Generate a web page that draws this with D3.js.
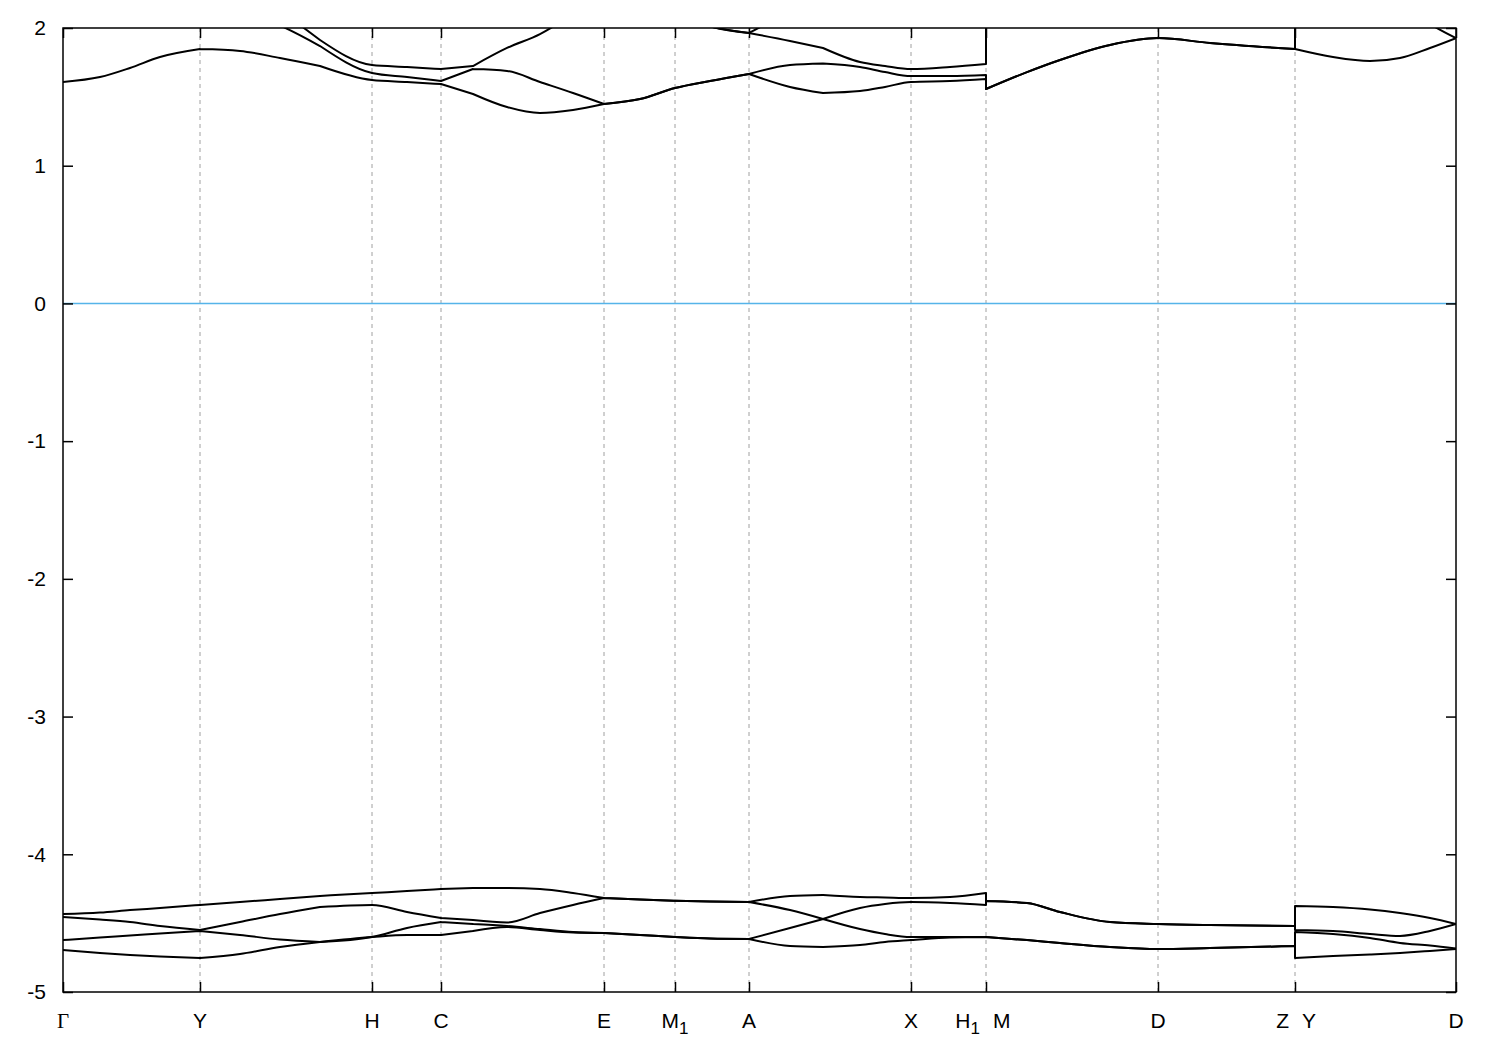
<!DOCTYPE html>
<html><head><meta charset="utf-8">
<script src="https://cdn.jsdelivr.net/npm/d3@7"></script>
<style>body{margin:0;background:#fff}</style>
</head><body>
<svg id="chart" width="1500" height="1050"></svg>
<script>
// k-path sample points (duplicated k = discontinuity of the path)
const kGrid = [0, 0.037, 0.067, 0.097, 0.137, 0.177, 0.217, 0.257, 0.309, 0.344,
  0.378, 0.410, 0.444, 0.477, 0.510, 0.541, 0.577, 0.612, 0.647, 0.686,
  0.727, 0.760, 0.797, 0.822, 0.848, 0.887, 0.923, 0.923, 0.964, 0.997,
  1.047, 1.095, 1.147, 1.232, 1.232, 1.270, 1.307, 1.337, 1.367, 1.393];
// sample indices where bands cross / meet (kinks)
const kinkIdx = [4, 7, 10, 11, 15, 19, 21];
const kTicks = [0, 0.137, 0.309, 0.378, 0.541, 0.612, 0.686, 0.848, 0.923, 1.095, 1.232, 1.393];
const kTickLabels = ["Γ", "Y", "H", "C", "E", "M_1", "A", "X", "H_1|M", "D", "Z|Y", "D"];
const yTicks = [-5, -4, -3, -2, -1, 0, 1, 2];
const fermiLevel = 0;

// conduction bands (eV)
const cb1 = [1.608, 1.644, 1.710, 1.789, 1.847, 1.833, 1.782, 1.724, 1.622, 1.608,
  1.593, 1.521, 1.426, 1.383, 1.405, 1.448, 1.484, 1.564, 1.615, 1.666,
  1.572, 1.528, 1.542, 1.572, 1.608, 1.615, 1.630, 1.557, 1.680, 1.768,
  1.877, 1.927, 1.891, 1.847, 1.847, 1.789, 1.760, 1.782, 1.855, 1.927];
const cb2 = [2.50, 2.45, 2.40, 2.30, 2.20, 2.12, 2.018, 1.869, 1.673, 1.644,
  1.615, 1.702, 1.688, 1.608, 1.528, 1.448, 1.484, 1.564, 1.615, 1.666,
  1.731, 1.742, 1.717, 1.680, 1.651, 1.651, 1.659, 1.557, 1.680, 1.768,
  1.877, 1.927, 1.891, 1.847, 2.30, 2.40, 2.40, 2.20, 2.03, 1.927];
const cb3 = [2.60, 2.60, 2.55, 2.50, 2.45, 2.35, 2.13, 1.913, 1.731, 1.717,
  1.702, 1.724, 1.855, 1.956, 2.10, 2.25, 2.20, 2.10, 2.012, 1.964,
  1.906, 1.855, 1.753, 1.724, 1.702, 1.717, 1.739, 2.30, 2.35, 2.40,
  2.40, 2.35, 2.40, 2.45, 2.45, 2.50, 2.50, 2.50, 2.50, 2.50];
const cb4 = [2.70, 2.70, 2.65, 2.60, 2.55, 2.50, 2.45, 2.40, 2.40, 2.40,
  2.40, 2.40, 2.40, 2.40, 2.35, 2.30, 2.25, 2.12, 2.012, 1.964,
  2.15, 2.40, 2.50, 2.50, 2.50, 2.50, 2.50, 2.60, 2.60, 2.60,
  2.60, 2.60, 2.60, 2.60, 2.60, 2.60, 2.60, 2.60, 2.60, 2.60];

// valence bands (eV)
const vb1 = [-4.434, -4.423, -4.405, -4.390, -4.368, -4.347, -4.325, -4.303, -4.281, -4.267,
  -4.252, -4.245, -4.245, -4.252, -4.281, -4.318, -4.329, -4.337, -4.343, -4.347,
  -4.303, -4.296, -4.310, -4.314, -4.318, -4.310, -4.281, -4.339, -4.354, -4.419,
  -4.492, -4.506, -4.514, -4.521, -4.376, -4.383, -4.401, -4.427, -4.463, -4.506];
const vb2 = [-4.456, -4.474, -4.492, -4.521, -4.550, -4.492, -4.434, -4.383, -4.368, -4.419,
  -4.463, -4.477, -4.495, -4.427, -4.368, -4.318, -4.329, -4.337, -4.343, -4.347,
  -4.405, -4.470, -4.390, -4.361, -4.347, -4.354, -4.368, -4.339, -4.354, -4.419,
  -4.492, -4.506, -4.514, -4.521, -4.550, -4.557, -4.579, -4.593, -4.557, -4.506];
const vb3 = [-4.623, -4.604, -4.590, -4.575, -4.557, -4.586, -4.619, -4.637, -4.601, -4.535,
  -4.492, -4.506, -4.521, -4.543, -4.564, -4.572, -4.586, -4.601, -4.612, -4.615,
  -4.535, -4.470, -4.543, -4.579, -4.601, -4.601, -4.601, -4.601, -4.623, -4.644,
  -4.673, -4.688, -4.681, -4.666, -4.564, -4.579, -4.608, -4.644, -4.663, -4.684];
const vb4 = [-4.695, -4.717, -4.732, -4.743, -4.753, -4.724, -4.673, -4.637, -4.601, -4.586,
  -4.586, -4.557, -4.528, -4.550, -4.568, -4.572, -4.586, -4.601, -4.612, -4.615,
  -4.666, -4.673, -4.659, -4.637, -4.623, -4.604, -4.601, -4.601, -4.623, -4.644,
  -4.673, -4.688, -4.681, -4.666, -4.753, -4.739, -4.728, -4.717, -4.702, -4.688];

const bands = [vb4, vb3, vb2, vb1, cb1, cb2, cb3, cb4];

const svg = d3.select("#chart");
const pL = 63, pR = 1456, pT = 28, pB = 992;
const x = d3.scaleLinear().domain([0, 1.393]).range([pL, pR]);
const y = d3.scaleLinear().domain([-5, 2]).range([pB, pT]);
const font = "'Liberation Sans', Arial, Helvetica, sans-serif";

svg.append("defs").append("clipPath").attr("id", "clip")
  .append("rect").attr("x", pL).attr("y", pT).attr("width", pR - pL).attr("height", pB - pT);

// vertical dashed grid at high-symmetry points
svg.append("g").selectAll("line").data(kTicks.slice(1, -1)).join("line")
  .attr("x1", d => x(d)).attr("x2", d => x(d))
  .attr("y1", pT).attr("y2", pB)
  .attr("stroke", "#a0a0a0").attr("stroke-width", 1).attr("stroke-dasharray", "4,4");

// Fermi level
svg.append("line")
  .attr("x1", pL).attr("x2", pR).attr("y1", y(fermiLevel)).attr("y2", y(fermiLevel))
  .attr("stroke", "#56b4e9").attr("stroke-width", 1.6);

// bands: smooth within segments, straight at path discontinuities
const smooth = d3.line().x(d => x(d[0])).y(d => y(d[1])).curve(d3.curveMonotoneX);
const straight = d3.line().x(d => x(d[0])).y(d => y(d[1]));
function bandPath(vals) {
  const pts = vals.map((v, i) => [kGrid[i], v]);
  let d = "", seg = [pts[0]];
  for (let i = 1; i < pts.length; i++) {
    if (kGrid[i] === kGrid[i - 1]) {           // jump at a path break
      if (seg.length > 1) d += smooth(seg);
      d += straight([pts[i - 1], pts[i]]);
      seg = [pts[i]];
    } else {
      seg.push(pts[i]);
      if (kinkIdx.includes(i)) { d += smooth(seg); seg = [pts[i]]; }
    }
  }
  if (seg.length > 1) d += smooth(seg);
  return d;
}
svg.append("g").attr("clip-path", "url(#clip)").selectAll("path").data(bands).join("path")
  .attr("d", bandPath).attr("fill", "none").attr("stroke", "#000").attr("stroke-width", 2)
  .attr("stroke-linejoin", "round").attr("stroke-linecap", "round");

// axes (inward ticks, mirrored)
const fmt = d => String(d);
const gL = svg.append("g").attr("transform", `translate(${pL},0)`)
  .call(d3.axisLeft(y).tickValues(yTicks).tickSize(-10).tickPadding(17).tickFormat(fmt));
const gR = svg.append("g").attr("transform", `translate(${pR},0)`)
  .call(d3.axisRight(y).tickValues(yTicks).tickSize(-10).tickFormat(""));
const gB = svg.append("g").attr("transform", `translate(0,${pB})`)
  .call(d3.axisBottom(x).tickValues(kTicks).tickSize(-10).tickFormat(""));
const gT = svg.append("g").attr("transform", `translate(0,${pT})`)
  .call(d3.axisTop(x).tickValues(kTicks).tickSize(-10).tickFormat(""));
[gL, gR, gB, gT].forEach(g => {
  g.select(".domain").remove();
  g.selectAll(".tick line").attr("stroke", "#000").attr("stroke-width", 1.5);
});
gL.selectAll(".tick text").attr("font-family", font).attr("font-size", 21).attr("fill", "#000");

// frame
svg.append("rect").attr("x", pL).attr("y", pT).attr("width", pR - pL).attr("height", pB - pT)
  .attr("fill", "none").attr("stroke", "#000").attr("stroke-width", 1.5);

// k-point labels
function addLabel(g, str, xpos, anchor) {
  const t = g.append("text").attr("x", xpos).attr("y", 1028).attr("text-anchor", anchor)
    .attr("font-family", str === "Γ" ? "'Liberation Serif', 'Times New Roman', serif" : font)
    .attr("font-size", 21).attr("fill", "#000");
  const parts = str.split("_");
  t.append("tspan").text(parts[0]);
  if (parts.length > 1) t.append("tspan").attr("font-size", 17).attr("dy", 6).text(parts[1]);
}
const gLab = svg.append("g");
kTickLabels.forEach((lab, i) => {
  const xp = x(kTicks[i]);
  if (lab.includes("|")) {
    const [a, b] = lab.split("|");
    addLabel(gLab, a, xp - 6, "end");
    addLabel(gLab, b, xp + 7, "start");
  } else {
    addLabel(gLab, lab, xp, "middle");
  }
});
</script>
</body></html>
